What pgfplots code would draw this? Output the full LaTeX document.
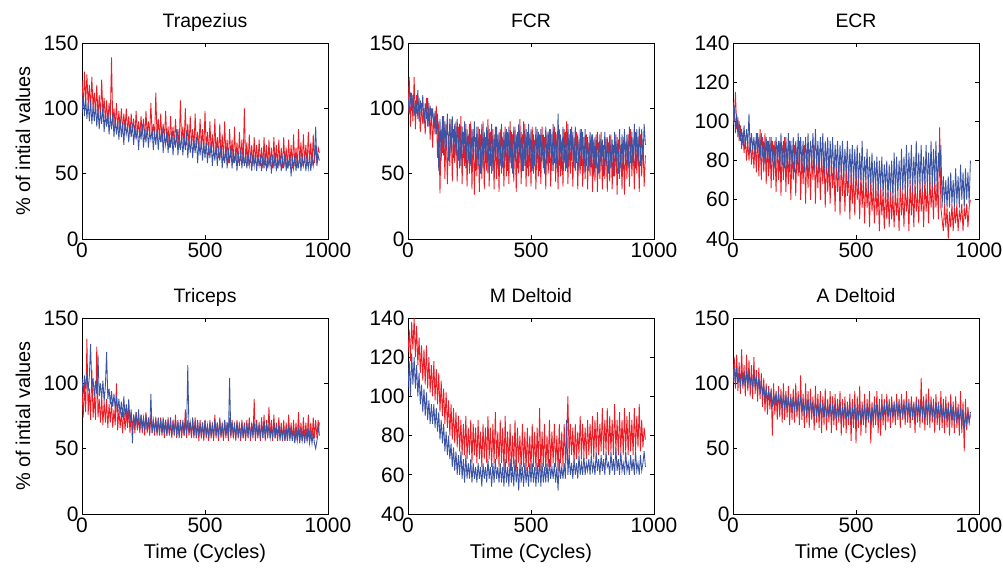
\documentclass[border=0pt]{standalone}
\usepackage{pgfplots}
\pgfplotsset{compat=1.18}
\usepackage{pgfplotstable}
\usepackage{fontspec}
\setmainfont{Liberation Sans}

\definecolor{mred}{RGB}{237,28,36}
\definecolor{mblue}{RGB}{58,83,164}

% x = cycle, r = red series, b = blue series
\pgfplotstableread{
x r b
0 122 96
5 100 112
10 128 94
15 104 108
20 126 92
25 102 104
30 118 90
35 98 106
40 124 88
45 100 102
50 112 90
55 96 104
60 118 86
65 94 100
70 110 84
75 92 98
80 122 88
85 96 102
90 108 82
95 90 96
100 106 86
105 88 98
110 104 80
115 92 94
120 139 84
125 88 96
130 100 78
135 86 92
140 104 80
145 84 90
150 98 76
155 84 92
160 100 78
165 82 88
170 96 72
175 84 90
180 100 80
185 82 86
190 94 74
195 80 88
200 96 78
205 82 88
210 92 72
215 78 86
220 98 76
225 80 86
230 90 68
235 78 84
240 94 76
245 80 88
250 92 70
255 76 84
260 98 74
265 80 86
270 90 70
275 78 82
280 104 76
285 80 84
290 88 68
295 76 82
300 112 72
305 78 84
310 92 68
315 76 82
320 96 74
325 74 86
330 88 66
335 76 80
340 98 72
345 74 82
350 86 66
355 70 80
360 94 70
365 74 82
370 86 64
375 72 78
380 92 70
385 74 84
390 84 64
395 70 78
400 106 68
405 74 80
410 86 64
415 72 78
420 100 68
425 72 82
430 88 62
435 70 76
440 94 66
445 72 78
450 84 62
455 68 76
460 96 66
465 70 78
470 82 58
475 68 74
480 92 64
485 70 76
490 84 60
495 66 74
500 98 62
505 68 74
510 82 58
515 64 72
520 90 62
525 66 74
530 80 56
535 64 70
540 92 60
545 64 72
550 78 56
555 62 70
560 88 60
565 62 72
570 80 54
575 60 68
580 90 58
585 62 70
590 76 54
595 58 68
600 84 58
605 62 70
610 76 54
615 58 68
620 86 58
625 60 68
630 74 52
635 58 66
640 82 56
645 60 68
650 76 54
655 58 66
660 100 56
665 58 66
670 74 54
675 56 64
680 80 56
685 58 66
690 72 52
695 56 64
700 78 56
705 58 66
710 72 52
715 56 64
720 76 56
725 56 62
730 70 52
735 54 64
740 78 54
745 56 66
750 72 52
755 54 62
760 76 56
765 56 64
770 70 50
775 54 64
780 78 54
785 56 66
790 72 52
795 54 62
800 76 56
805 56 64
810 70 52
815 54 62
820 78 54
825 56 66
830 70 52
835 54 62
840 76 56
845 56 64
850 72 48
855 54 62
860 80 54
865 56 64
870 70 52
875 54 62
880 84 54
885 58 66
890 74 52
895 56 62
900 80 56
905 58 64
910 72 52
915 56 62
920 82 54
925 58 64
930 74 52
935 56 62
940 80 56
945 58 64
950 72 86
955 58 56
960 70 64
965 66 60
}\trap

\pgfplotstableread{
x r b
0 96 108
5 124 96
10 86 112
15 112 98
20 90 110
25 124 94
30 84 106
35 110 96
40 92 114
45 108 90
50 82 106
55 104 94
60 88 110
65 100 88
70 80 104
75 108 92
80 86 108
85 104 86
90 76 102
95 100 90
100 70 100
105 96 84
110 80 98
115 102 80
120 62 96
125 90 52
130 35 92
135 84 60
140 66 94
145 94 64
150 46 90
155 88 70
160 42 96
165 80 60
170 56 92
175 92 66
180 44 94
185 84 62
190 58 88
195 90 64
200 44 92
205 86 60
210 54 88
215 94 56
220 42 86
225 82 62
230 56 90
235 88 54
240 40 84
245 80 60
250 50 88
255 90 56
260 38 84
265 84 62
270 34 90
275 78 52
280 48 86
285 86 56
290 36 84
295 80 50
300 46 88
305 90 54
310 38 82
315 78 58
320 52 86
325 92 50
330 40 84
335 82 56
340 50 88
345 84 52
350 38 80
355 86 60
360 46 86
365 80 54
370 36 82
375 84 56
380 50 88
385 78 54
390 40 82
395 86 60
400 48 84
405 82 52
410 42 86
415 90 58
420 54 82
425 80 50
430 44 86
435 86 60
440 36 80
445 82 54
450 50 88
455 92 58
460 42 82
465 80 52
470 52 90
475 88 56
480 40 84
485 82 54
490 48 88
495 80 56
500 40 84
505 86 52
510 50 80
515 76 56
520 38 86
525 84 58
530 48 82
535 80 52
540 42 84
545 86 60
550 54 80
555 78 50
560 38 86
565 82 56
570 50 82
575 84 58
580 40 84
585 80 52
590 52 88
595 86 58
600 44 82
605 80 54
610 38 96
615 84 56
620 48 80
625 76 52
630 40 86
635 84 58
640 52 82
645 90 54
650 42 88
655 80 56
660 50 84
665 86 60
670 40 82
675 78 54
680 52 86
685 82 58
690 38 80
695 76 52
700 50 84
705 84 56
710 40 82
715 78 50
720 46 84
725 80 56
730 38 78
735 74 52
740 48 82
745 80 54
750 36 80
755 76 48
760 44 78
765 80 54
770 36 82
775 74 50
780 46 80
785 82 56
790 38 76
795 72 48
800 46 82
805 78 56
810 36 78
815 74 50
820 44 80
825 80 54
830 38 76
835 72 48
840 48 82
845 80 56
850 34 78
855 76 50
860 46 84
865 72 54
870 38 80
875 78 52
880 34 84
885 74 56
890 46 80
895 80 54
900 40 86
905 84 58
910 48 82
915 76 56
920 38 88
925 82 54
930 50 84
935 78 58
940 36 86
945 80 56
950 48 84
955 76 60
960 40 88
965 64 72
}\fcr

\pgfplotstableread{
x r b
0 110 98
5 100 108
10 115 94
15 96 104
20 102 92
25 90 100
30 98 90
35 86 96
40 94 88
45 84 98
50 92 86
55 80 96
60 90 88
65 80 104
70 92 84
75 78 94
80 88 86
85 76 92
90 90 82
95 74 94
100 94 84
105 72 92
110 96 80
115 70 94
120 92 82
125 74 90
130 94 78
135 68 92
140 90 80
145 72 90
150 92 76
155 66 92
160 90 80
165 70 88
170 90 76
175 64 92
180 88 80
185 70 90
190 90 74
195 62 94
200 88 78
205 70 90
210 92 76
215 64 92
220 86 76
225 68 94
230 90 74
235 60 90
240 86 78
245 70 92
250 88 74
255 62 90
260 86 78
265 72 94
270 90 74
275 60 92
280 84 78
285 68 90
290 88 74
295 58 92
300 86 76
305 66 94
310 86 74
315 60 90
320 84 80
325 70 94
330 88 74
335 58 96
340 82 78
345 66 90
350 86 74
355 60 92
360 84 78
365 68 94
370 82 72
375 56 90
380 84 76
385 64 92
390 80 72
395 58 90
400 82 76
405 66 92
410 78 70
415 54 88
420 82 76
425 64 90
430 78 70
435 52 88
440 80 74
445 62 90
450 76 70
455 54 86
460 78 74
465 62 90
470 74 68
475 50 86
480 76 72
485 58 88
490 72 68
495 52 86
500 76 70
505 60 88
510 70 66
515 50 84
520 74 70
525 56 90
530 70 66
535 48 82
540 72 70
545 56 86
550 68 64
555 46 82
560 72 68
565 54 84
570 66 64
575 48 80
580 70 68
585 52 82
590 66 62
595 44 80
600 68 66
605 52 82
610 64 62
615 45 78
620 68 66
625 50 80
630 64 60
635 46 78
640 66 64
645 50 80
650 62 60
655 46 84
660 66 64
665 52 82
670 62 62
675 44 80
680 68 66
685 52 86
690 64 64
695 46 82
700 68 66
705 54 88
710 64 64
715 44 84
720 70 68
725 52 88
730 66 64
735 46 82
740 70 68
745 54 90
750 64 64
755 48 84
760 70 68
765 54 88
770 66 64
775 46 82
780 72 68
785 54 88
790 66 66
795 48 84
800 72 68
805 56 90
810 68 66
815 50 86
820 72 68
825 56 90
830 68 64
835 50 84
840 97 72
845 56 88
850 50 56
855 44 72
860 58 58
865 46 70
870 56 56
875 40 72
880 54 56
885 46 74
890 58 58
895 44 70
900 56 56
905 48 76
910 58 58
915 44 72
920 54 56
925 50 78
930 58 60
935 44 74
940 56 56
945 50 76
950 58 60
955 46 74
960 56 58
965 60 80
}\ecr

\pgfplotstableread{
x r b
0 95 104
5 74 92
10 100 106
15 78 96
20 134 108
25 76 94
30 96 106
35 72 130
40 110 96
45 74 104
50 90 90
55 72 102
60 128 92
65 74 122
70 88 90
75 70 100
80 90 88
85 68 102
90 86 86
95 70 98
100 88 124
105 66 88
110 84 96
115 70 84
120 86 94
125 66 82
130 80 92
135 68 80
140 100 90
145 64 78
150 80 88
155 66 76
160 78 86
165 62 74
170 80 90
175 64 74
180 78 84
185 66 72
190 80 88
195 62 70
200 78 80
205 64 54
210 76 76
215 62 68
220 78 78
225 64 66
230 74 80
235 62 64
240 76 76
245 62 66
250 74 74
255 60 64
260 78 76
265 62 64
270 72 74
275 60 62
280 76 92
285 62 62
290 72 72
295 60 64
300 74 72
305 60 62
310 72 74
315 62 60
320 74 72
325 60 62
330 70 74
335 58 62
340 72 72
345 60 60
350 74 70
355 60 62
360 70 74
365 58 60
370 72 70
375 60 62
380 76 72
385 58 60
390 70 72
395 60 58
400 72 70
405 58 62
410 70 72
415 60 60
420 80 70
425 58 62
430 72 114
435 60 62
440 70 70
445 58 60
450 72 74
455 58 60
460 74 70
465 58 58
470 70 72
475 56 60
480 72 68
485 58 60
490 70 70
495 56 58
500 72 72
505 58 60
510 68 68
515 56 58
520 72 70
525 58 60
530 70 68
535 56 58
540 76 72
545 58 60
550 70 70
555 56 58
560 74 72
565 58 60
570 70 68
575 56 58
580 72 72
585 58 60
590 70 70
595 56 58
600 74 104
605 58 60
610 72 70
615 58 60
620 70 68
625 56 58
630 72 70
635 58 60
640 70 68
645 56 58
650 72 70
655 58 58
660 70 68
665 56 58
670 72 68
675 58 60
680 74 70
685 56 58
690 70 68
695 58 60
700 88 70
705 56 58
710 72 68
715 58 60
720 70 68
725 56 58
730 74 70
735 58 58
740 76 70
745 56 58
750 72 68
755 58 60
760 82 68
765 58 58
770 72 66
775 56 58
780 76 70
785 58 58
790 70 66
795 56 58
800 74 68
805 58 56
810 70 66
815 56 58
820 72 66
825 56 56
830 70 66
835 56 56
840 76 68
845 58 56
850 70 66
855 56 56
860 72 66
865 56 54
870 70 64
875 56 56
880 78 66
885 56 54
890 70 64
895 56 56
900 74 64
905 56 54
910 70 64
915 56 56
920 76 64
925 56 54
930 70 62
935 56 54
940 74 62
945 58 54
950 72 50
955 58 56
960 72 62
965 60 70
}\tric

\pgfplotstableread{
x r b
0 122 104
5 134 118
10 118 100
15 138 122
20 124 106
25 140 120
30 120 104
35 136 116
40 116 100
45 130 112
50 112 96
55 126 106
60 108 92
65 124 104
70 106 90
75 126 102
80 104 88
85 120 98
90 102 86
95 116 96
100 100 86
105 118 96
110 98 84
115 114 94
120 96 82
125 112 92
130 92 78
135 108 88
140 90 76
145 104 86
150 86 72
155 102 82
160 84 70
165 98 80
170 80 68
175 96 76
180 78 64
185 94 74
190 76 62
195 92 72
200 74 60
205 90 70
210 72 60
215 88 72
220 70 58
225 86 68
230 70 56
235 90 70
240 68 58
245 84 66
250 70 58
255 88 68
260 66 56
265 86 66
270 70 58
275 84 64
280 66 56
285 88 66
290 68 58
295 82 64
300 64 54
305 86 66
310 68 58
315 84 64
320 66 56
325 90 68
330 68 58
335 84 64
340 64 54
345 86 66
350 66 56
355 92 68
360 68 58
365 82 64
370 64 56
375 88 66
380 66 56
385 84 64
390 62 54
395 90 68
400 66 56
405 82 64
410 64 54
415 86 68
420 62 56
425 80 64
430 64 54
435 88 68
440 62 56
445 84 64
450 66 52
455 80 66
460 62 56
465 86 64
470 64 54
475 82 66
480 62 56
485 84 64
490 64 54
495 80 66
500 62 56
505 86 66
510 64 56
515 82 64
520 62 54
525 84 66
530 64 56
535 94 68
540 62 54
545 82 66
550 64 56
555 86 64
560 62 56
565 80 66
570 64 56
575 88 68
580 64 58
585 82 64
590 66 58
595 86 66
600 64 56
605 80 64
610 62 52
615 86 68
620 66 58
625 82 64
630 64 58
635 86 66
640 66 58
645 80 88
650 100 60
655 68 70
660 86 60
665 70 66
670 84 58
675 66 68
680 86 60
685 68 66
690 82 58
695 70 70
700 90 60
705 68 66
710 86 60
715 70 70
720 84 60
725 68 66
730 88 62
735 70 68
740 86 60
745 70 70
750 90 62
755 68 66
760 88 60
765 72 72
770 92 62
775 70 68
780 86 60
785 72 70
790 94 62
795 70 68
800 88 60
805 72 72
810 94 64
815 70 66
820 90 60
825 72 72
830 88 62
835 70 68
840 96 60
845 72 74
850 88 62
855 70 68
860 92 60
865 72 72
870 88 62
875 70 66
880 94 60
885 72 72
890 90 62
895 70 66
900 92 60
905 72 70
910 88 62
915 70 68
920 94 60
925 72 72
930 90 62
935 74 66
940 96 60
945 72 70
950 88 62
955 74 66
960 84 72
965 78 64
}\mdel

\pgfplotstableread{
x r b
0 100 104
5 120 110
10 96 98
15 122 112
20 94 100
25 116 108
30 92 96
35 126 110
40 96 98
45 114 106
50 90 98
55 122 110
60 94 96
65 118 108
70 90 100
75 114 106
80 88 96
85 120 108
90 92 98
95 110 104
100 86 94
105 112 104
110 88 92
115 108 102
120 82 92
125 104 98
130 78 88
135 100 96
140 76 86
145 98 94
150 80 88
155 96 94
160 60 82
165 100 92
170 76 86
175 94 92
180 72 82
185 98 92
190 74 84
195 96 90
200 70 82
205 100 92
210 72 82
215 94 90
220 74 80
225 98 90
230 68 80
235 92 88
240 72 80
245 96 90
250 70 80
255 100 88
260 74 78
265 94 88
270 68 80
275 106 90
280 72 78
285 92 86
290 66 78
295 100 88
300 70 78
305 94 86
310 66 76
315 96 88
320 72 78
325 90 84
330 64 76
335 98 86
340 70 76
345 92 84
350 66 74
355 94 86
360 62 74
365 90 84
370 68 74
375 96 86
380 64 74
385 88 82
390 70 76
395 94 84
400 62 72
405 90 84
410 68 74
415 92 82
420 64 72
425 88 84
430 70 74
435 94 84
440 60 70
445 88 82
450 66 74
455 90 84
460 62 72
465 86 82
470 68 74
475 92 84
480 56 70
485 88 82
490 66 72
495 94 84
500 54 70
505 90 82
510 66 72
515 98 84
520 60 70
525 86 80
530 68 72
535 92 84
540 62 70
545 88 82
550 70 72
555 94 84
560 54 70
565 86 82
570 66 72
575 90 84
580 68 74
585 94 84
590 62 72
595 88 82
600 60 72
605 92 84
610 68 74
615 88 84
620 64 74
625 92 86
630 70 74
635 88 84
640 66 74
645 90 86
650 70 76
655 86 84
660 68 74
665 92 86
670 72 76
675 88 84
680 66 74
685 92 86
690 72 76
695 88 84
700 68 74
705 94 86
710 70 76
715 88 84
720 66 74
725 90 86
730 72 76
735 86 84
740 62 72
745 90 86
750 70 76
755 88 84
760 66 74
765 104 86
770 70 76
775 90 84
780 64 72
785 92 86
790 68 74
795 96 86
800 66 74
805 90 84
810 70 76
815 88 84
820 62 72
825 92 86
830 68 74
835 86 84
840 64 72
845 94 84
850 66 74
855 88 82
860 62 72
865 90 84
870 66 74
875 86 82
880 60 70
885 92 84
890 66 72
895 86 82
900 62 70
905 90 82
910 66 72
915 84 80
920 60 70
925 94 82
930 62 68
935 86 80
940 48 64
945 88 78
950 64 68
955 82 78
960 70 70
965 76 78
}\adel

\pgfplotsset{
  every axis title shift=0pt,
  mlab/.style={
    scale only axis, width=246bp, height=196bp,
    anchor=south west,
    xmin=0, xmax=1000, xtick={0,500,1000},
    tick align=inside, major tick length=4bp,
    axis line style={line width=0.8bp},
    every tick/.style={black, line width=0.7bp},
    /pgf/number format/assume math mode=true,
    /pgf/number format/1000 sep={},
    tick label style={font=\fontsize{21}{21}\selectfont},
    title style={font=\fontsize{19.5}{19.5}\selectfont,
      at={([yshift=15bp]axis description cs:0.5,1)}, anchor=base},
    xlabel style={font=\fontsize{20}{20}\selectfont,
      at={([yshift=-44bp]axis description cs:0.5,0)}, anchor=base},
    ylabel style={font=\fontsize{20}{20}\selectfont,
      at={([xshift=-52bp]axis description cs:0,0.5)}, anchor=base},
  },
  rline/.style={color=mred, line width=0.85bp},
  bline/.style={color=mblue, line width=0.85bp},
}

\begin{document}
\begin{tikzpicture}
\useasboundingbox (0bp,0bp) rectangle (1003bp,568bp);

\begin{axis}[mlab, at={(82bp,329bp)}, title={Trapezius},
  ymin=0, ymax=150, ytick={0,50,100,150}, ylabel={\% of intial values}]
  \addplot[rline] table[x=x, y=r] {\trap};
  \addplot[bline] table[x=x, y=b] {\trap};
\end{axis}

\begin{axis}[mlab, at={(408bp,329bp)}, title={FCR},
  ymin=0, ymax=150, ytick={0,50,100,150}]
  \addplot[rline] table[x=x, y=r] {\fcr};
  \addplot[bline] table[x=x, y=b] {\fcr};
\end{axis}

\begin{axis}[mlab, at={(733bp,329bp)}, title={ECR},
  ymin=40, ymax=140, ytick={40,60,...,140}]
  \addplot[rline] table[x=x, y=r] {\ecr};
  \addplot[bline] table[x=x, y=b] {\ecr};
\end{axis}

\begin{axis}[mlab, at={(82bp,54bp)}, title={Triceps},
  ymin=0, ymax=150, ytick={0,50,100,150},
  ylabel={\% of intial values}, xlabel={Time (Cycles)}]
  \addplot[rline] table[x=x, y=r] {\tric};
  \addplot[bline] table[x=x, y=b] {\tric};
\end{axis}

\begin{axis}[mlab, at={(408bp,54bp)}, title={M Deltoid},
  ymin=40, ymax=140, ytick={40,60,...,140}, xlabel={Time (Cycles)}]
  \addplot[rline] table[x=x, y=r] {\mdel};
  \addplot[bline] table[x=x, y=b] {\mdel};
\end{axis}

\begin{axis}[mlab, at={(733bp,54bp)}, title={A Deltoid},
  ymin=0, ymax=150, ytick={0,50,100,150}, xlabel={Time (Cycles)}]
  \addplot[rline] table[x=x, y=r] {\adel};
  \addplot[bline] table[x=x, y=b] {\adel};
\end{axis}
\end{tikzpicture}
\end{document}
